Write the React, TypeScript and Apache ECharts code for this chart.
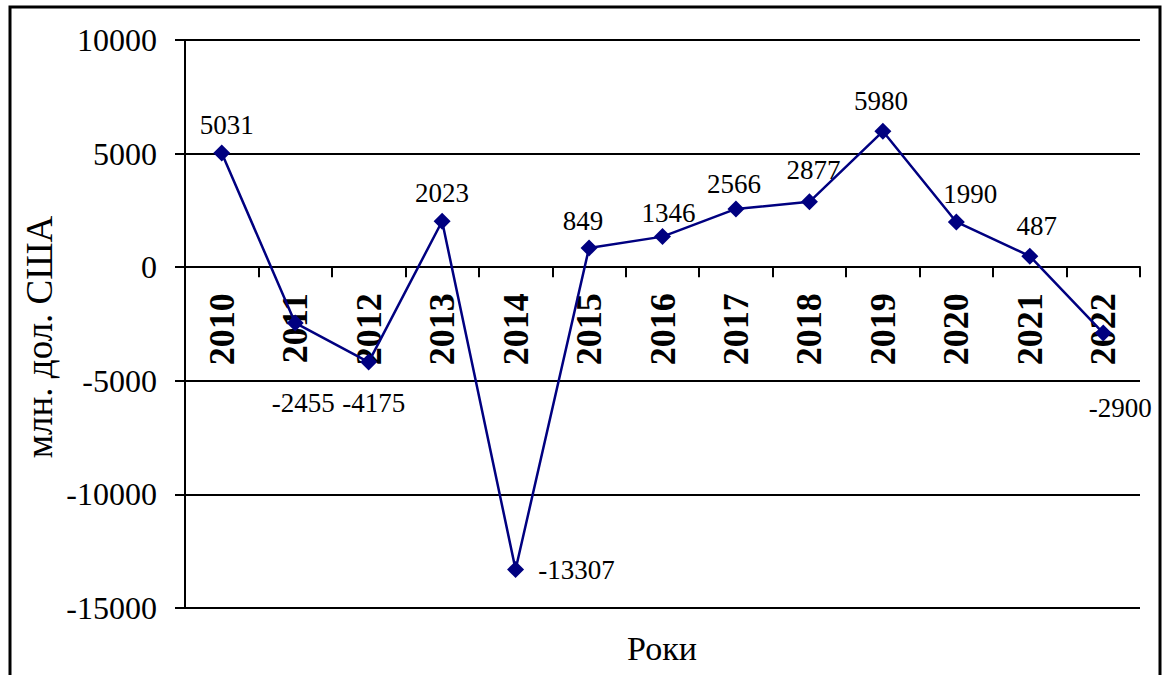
import React, { useEffect, useRef } from "react";
import * as echarts from "echarts";

const years = ["2010", "2011", "2012", "2013", "2014", "2015", "2016", "2017", "2018", "2019", "2020", "2021", "2022"];
const values = [5031, -2455, -4175, 2023, -13307, 849, 1346, 2566, 2877, 5980, 1990, 487, -2900];
const yTicks = { min: -15000, max: 10000, interval: 5000 };
const xAxisTitle = "Роки";
const yAxisTitle = "млн. дол. США";

// label offsets (dx, dy) relative to each point, in pixels
const labelOffsets: [number, number][] = [
  [5, -28], [8, 80], [5, 41], [0, -28], [61, 0], [-6, -27], [6, -24],
  [-2, -25], [4, -32], [-2, -30], [14, -28], [7, -30], [17, 75],
];

const FONT = "'Liberation Serif', 'Times New Roman', serif";
const GRID = { left: 185, top: 40, right: 22, bottom: 67 };
const H = 675;

export default function App() {
  const ref = useRef<HTMLDivElement>(null);
  useEffect(() => {
    if (!ref.current) return;
    const chart = echarts.init(ref.current, undefined, { renderer: "svg" });
    const plotH = H - GRID.top - GRID.bottom;
    const zeroFromBottom = (0 - yTicks.min) / (yTicks.max - yTicks.min) * plotH;
    chart.setOption({
      animation: false,
      backgroundColor: "#fff",
      grid: { ...GRID, containLabel: false, outerBoundsMode: "none" },
      xAxis: {
        type: "category",
        data: years,
        boundaryGap: true,
        offset: -zeroFromBottom,
        axisLine: { onZero: false, lineStyle: { color: "#000", width: 2 } },
        axisTick: { show: true, inside: false, length: 10, alignWithLabel: false, lineStyle: { color: "#000", width: 2 } },
        axisLabel: {
          interval: 0,
          rotate: 90,
          margin: 26,
          color: "#000",
          fontFamily: FONT,
          fontWeight: "bold",
          fontSize: 36,
        },
        splitLine: { show: false },
      },
      yAxis: {
        type: "value",
        min: yTicks.min,
        max: yTicks.max,
        interval: yTicks.interval,
        axisLine: { show: true, lineStyle: { color: "#000", width: 2 } },
        axisTick: { show: true, inside: false, length: 10, lineStyle: { color: "#000", width: 2 } },
        axisLabel: {
          margin: 28,
          color: "#000",
          fontFamily: FONT,
          fontSize: 32,
          formatter: (v: number) => String(v),
        },
        splitLine: { show: true, lineStyle: { color: "#000", width: 2 } },
      },
      series: [
        {
          type: "line",
          data: values.map((v, i) => ({
            value: v,
            label: { offset: labelOffsets[i] },
          })),
          symbol: "diamond",
          symbolSize: 17,
          lineStyle: { color: "#000080", width: 2.5 },
          itemStyle: { color: "#000080" },
          label: {
            show: true,
            position: "inside",
            color: "#000",
            fontFamily: FONT,
            fontSize: 27,
          },
        },
      ],
      graphic: [
        {
          type: "rect",
          shape: { x: 10, y: 7, width: 1150, height: 720 },
          style: { fill: "none", stroke: "#000", lineWidth: 3 },
          silent: true,
        },
        {
          type: "text",
          x: 662,
          y: 648,
          style: {
            text: xAxisTitle,
            fill: "#000",
            font: `34px ${FONT}`,
            align: "center",
            verticalAlign: "middle",
          },
        },
        {
          type: "text",
          x: 39,
          y: 337,
          rotation: Math.PI / 2,
          style: {
            text: yAxisTitle,
            fill: "#000",
            font: `37px ${FONT}`,
            align: "center",
            verticalAlign: "middle",
          },
        },
      ],
    });
    return () => chart.dispose();
  }, []);
  return <div ref={ref} style={{ position: "fixed", left: 0, top: 0, width: 1162, height: 675 }} />;
}
